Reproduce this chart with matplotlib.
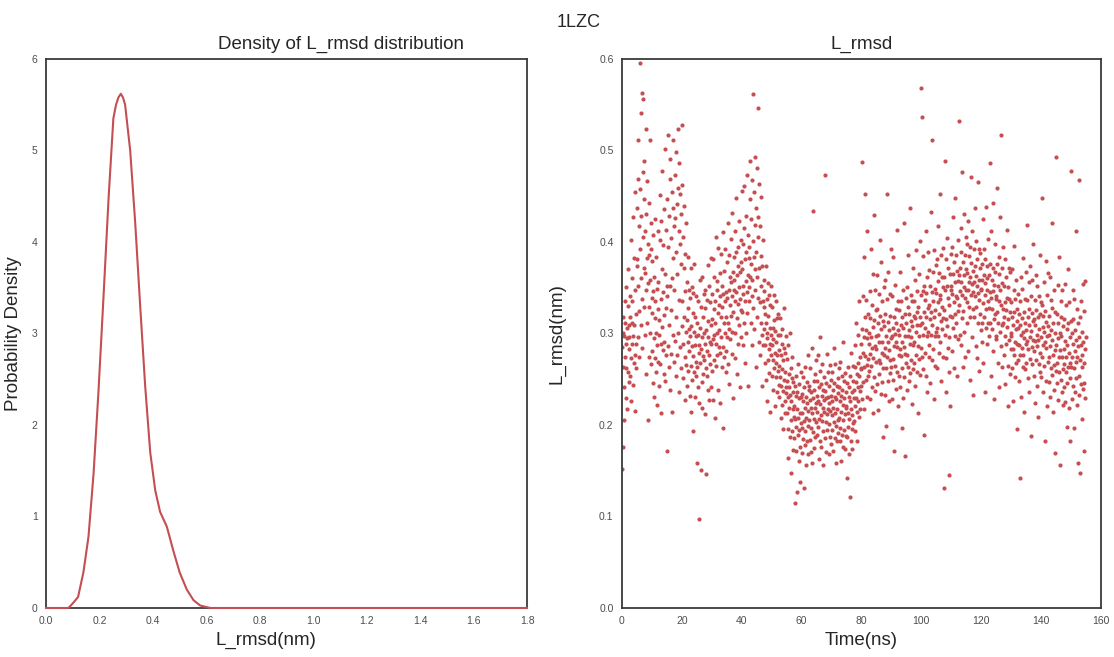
import matplotlib.pyplot as plt
import numpy as np

plt.rcParams["font.family"] = ["Liberation Sans", "DejaVu Sans"]

red = "#C44E52"
text_col = "#262626"
tick_col = "#4d4d4d"
spine_col = "#3a3a3a"

# ligand RMSD density (KDE of L_rmsd)
kde_x = [0.0, 0.05, 0.084, 0.10, 0.12, 0.14, 0.159, 0.178, 0.196, 0.215,
         0.234, 0.252, 0.262, 0.271, 0.28, 0.288, 0.296, 0.315, 0.334, 0.352,
         0.371, 0.39, 0.409, 0.427, 0.452, 0.477, 0.50, 0.527, 0.552, 0.577,
         0.615, 0.70, 1.8]
kde_y = [0.0, 0.0, 0.0, 0.05, 0.12, 0.39, 0.78, 1.47, 2.35, 3.39,
         4.47, 5.35, 5.50, 5.58, 5.62, 5.58, 5.50, 5.00, 4.20, 3.32,
         2.43, 1.70, 1.28, 1.05, 0.89, 0.62, 0.39, 0.20, 0.085, 0.027,
         0.0, 0.0, 0.0]

# L_rmsd per frame, in 1e-3 nm, one frame every 0.1 ns
dt_ns = 0.1
l_rmsd_x1000 = [
    152, 285, 301, 176, 263, 318, 241, 297, 205, 336, 274, 312, 229, 289, 351, 262, 306, 218, 295, 330, 258, 371, 283, 247, 309,
    296, 341, 254, 318, 402, 273, 226, 335, 289, 361, 312, 244, 427, 297, 268, 383, 309, 215, 347, 276, 455, 321, 288, 262, 374,
    381, 437, 296, 512, 352, 469, 274, 418, 325, 596, 392, 458, 309, 541, 361, 428, 563, 338, 284, 476, 405, 556, 329, 447, 372,
    489, 366, 412, 298, 524, 347, 256, 431, 382, 312, 467, 205, 355, 398, 274, 443, 329, 386, 512, 301, 358, 421, 267, 392, 339,
    322, 281, 379, 246, 346, 408, 295, 231, 362, 317, 273, 425, 336, 258, 301, 384, 222, 349, 287, 412, 269, 327, 356, 298, 243,
    315, 402, 267, 451, 338, 289, 423, 213, 371, 307, 478, 282, 345, 397, 256, 320, 436, 291, 365, 502, 248, 328, 413, 276, 352,
    172, 341, 447, 286, 395, 517, 263, 428, 309, 469, 352, 238, 491, 326, 404, 278, 455, 361, 214, 437, 298, 382, 512, 269, 418,
    347, 473, 292, 426, 254, 389, 498, 318, 441, 277, 365, 459, 301, 523, 236, 412, 337, 486, 285, 398, 452, 262, 376, 431, 308,
    528, 336, 462, 289, 405, 251, 372, 318, 439, 274, 346, 227, 387, 302, 266, 421, 315, 243, 356, 291, 328, 384, 259, 305, 347,
    281, 232, 339, 297, 264, 372, 214, 308, 286, 351, 249, 322, 275, 193, 344, 302, 258, 376, 287, 231, 318, 269, 341, 297, 254,
    312, 263, 158, 298, 241, 336, 279, 97, 287, 224, 358, 268, 306, 151, 283, 329, 247, 296, 362, 219, 275, 318, 256, 301, 343,
    271, 328, 289, 212, 347, 262, 304, 146, 281, 337, 253, 296, 375, 238, 314, 276, 352, 227, 291, 334, 267, 309, 242, 383, 288,
    316, 259, 343, 294, 381, 227, 327, 298, 362, 271, 336, 208, 312, 289, 405, 264, 348, 301, 276, 357, 238, 322, 393, 285, 331,
    304, 366, 279, 341, 224, 318, 387, 296, 352, 263, 329, 411, 285, 343, 197, 312, 368, 274, 336, 301, 392, 258, 345, 318, 281,
    339, 296, 378, 312, 421, 267, 348, 305, 386, 245, 331, 362, 294, 403, 319, 356, 278, 341, 432, 302, 367, 229, 323, 384, 347,
    358, 301, 412, 336, 273, 389, 345, 448, 317, 364, 256, 332, 395, 374, 288, 351, 423, 309, 367, 241, 338, 402, 326, 378, 296,
    371, 324, 456, 343, 287, 398, 352, 415, 312, 461, 336, 381, 268, 357, 428, 301, 389, 345, 473, 322, 364, 243, 408, 351, 383,
    394, 336, 447, 362, 488, 312, 376, 425, 287, 359, 468, 341, 401, 562, 328, 384, 455, 305, 371, 419, 348, 493, 263, 389, 437,
    362, 481, 318, 427, 546, 339, 405, 291, 463, 372, 334, 418, 276, 385, 311, 449, 352, 298, 374, 243, 336, 402, 287, 329, 358,
    305, 346, 268, 321, 287, 374, 249, 312, 295, 338, 226, 301, 355, 271, 319, 283, 342, 257, 306, 331, 214, 289, 352, 276, 298,
    287, 253, 329, 271, 306, 238, 294, 342, 262, 315, 279, 221, 303, 268, 336, 252, 291, 317, 236, 276, 321, 259, 298, 244, 282,
    264, 231, 298, 252, 317, 208, 276, 243, 289, 222, 261, 305, 237, 271, 196, 284, 249, 328, 226, 258, 213, 279, 242, 297, 235,
    248, 213, 272, 196, 231, 287, 164, 242, 219, 256, 187, 233, 301, 205, 262, 148, 226, 251, 193, 274, 218, 236, 173, 247, 209,
    221, 186, 243, 115, 207, 232, 172, 254, 198, 218, 127, 236, 189, 267, 208, 161, 229, 194, 245, 176, 213, 138, 231, 202, 258,
    197, 234, 169, 213, 252, 185, 226, 131, 204, 241, 178, 219, 263, 193, 231, 156, 208, 247, 182, 224, 199, 276, 168, 215, 238,
    206, 243, 184, 227, 262, 171, 219, 236, 197, 284, 213, 158, 229, 434, 192, 248, 207, 175, 238, 219, 256, 187, 224, 203, 271,
    232, 189, 248, 214, 276, 198, 226, 163, 241, 207, 259, 182, 223, 296, 211, 245, 176, 232, 204, 267, 219, 193, 238, 156, 227,
    214, 252, 186, 237, 473, 203, 229, 171, 246, 212, 278, 194, 231, 218, 258, 168, 224, 201, 243, 187, 266, 215, 232, 179, 249,
    226, 194, 258, 211, 238, 172, 219, 284, 203, 246, 186, 231, 213, 267, 159, 228, 199, 243, 217, 182, 251, 206, 235, 191, 262,
    208, 241, 183, 226, 269, 197, 232, 161, 214, 253, 189, 238, 206, 291, 176, 222, 248, 195, 229, 212, 174, 257, 219, 236, 188,
    221, 187, 246, 142, 213, 263, 198, 231, 168, 242, 207, 121, 226, 254, 183, 218, 279, 196, 236, 174, 211, 248, 202, 265, 229,
    238, 204, 263, 221, 287, 193, 247, 229, 312, 214, 256, 182, 241, 268, 226, 298, 209, 253, 336, 237, 274, 218, 261, 243, 289,
    262, 305, 228, 487, 279, 341, 247, 296, 263, 384, 218, 318, 275, 452, 249, 304, 337, 266, 231, 295, 412, 272, 321, 254, 288,
    301, 259, 346, 278, 228, 317, 392, 265, 296, 241, 331, 284, 365, 213, 307, 273, 429, 252, 315, 286, 348, 237, 297, 326, 269,
    283, 327, 245, 364, 298, 216, 312, 271, 343, 256, 291, 402, 268, 319, 234, 305, 378, 279, 247, 336, 291, 187, 314, 262, 351,
    276, 308, 233, 359, 284, 321, 199, 297, 262, 338, 452, 274, 313, 248, 291, 367, 226, 304, 282, 343, 257, 319, 271, 392, 295,
    263, 297, 341, 228, 306, 272, 384, 249, 318, 286, 172, 299, 353, 265, 327, 239, 291, 312, 413, 258, 285, 336, 221, 304, 276,
    298, 254, 326, 283, 367, 241, 309, 275, 335, 197, 291, 318, 262, 348, 229, 306, 285, 421, 252, 321, 278, 166, 297, 339, 268,
    312, 276, 351, 238, 297, 329, 263, 386, 304, 248, 321, 289, 437, 257, 314, 342, 271, 296, 223, 335, 308, 261, 372, 287, 319,
    291, 336, 268, 317, 243, 358, 302, 276, 391, 324, 258, 309, 346, 286, 213, 329, 297, 365, 272, 318, 255, 401, 309, 284, 342,
    568, 537, 312, 274, 346, 298, 385, 261, 323, 352, 189, 306, 337, 279, 412, 318, 254, 344, 297, 362, 236, 328, 389, 302, 274,
    331, 287, 369, 316, 246, 352, 298, 433, 324, 271, 345, 512, 309, 367, 283, 336, 228, 318, 391, 297, 349, 264, 326, 375, 302,
    344, 306, 381, 262, 334, 418, 297, 357, 321, 279, 366, 338, 453, 291, 342, 314, 386, 248, 329, 362, 305, 393, 274, 351, 317,
    326, 131, 362, 489, 298, 347, 273, 381, 316, 236, 352, 308, 404, 284, 339, 372, 258, 145, 331, 296, 365, 319, 221, 348, 387,
    352, 318, 394, 281, 343, 427, 306, 365, 334, 262, 378, 321, 356, 448, 297, 341, 386, 312, 253, 368, 339, 402, 294, 357, 325,
    364, 331, 532, 298, 372, 346, 415, 287, 356, 389, 317, 476, 342, 263, 378, 325, 364, 431, 302, 351, 386, 274, 339, 405, 348,
    371, 334, 398, 312, 366, 281, 347, 423, 329, 385, 356, 249, 362, 394, 318, 471, 342, 377, 296, 354, 412, 327, 368, 233, 345,
    356, 392, 318, 374, 437, 341, 286, 363, 329, 401, 352, 273, 381, 344, 466, 311, 358, 392, 337, 259, 372, 321, 388, 349, 304,
    347, 312, 376, 291, 358, 425, 333, 268, 364, 318, 392, 342, 236, 355, 381, 306, 438, 327, 361, 289, 347, 374, 312, 403, 336,
    328, 364, 297, 345, 486, 312, 376, 254, 339, 412, 305, 358, 327, 443, 281, 346, 372, 316, 228, 353, 398, 321, 367, 294, 338,
    341, 297, 376, 323, 459, 268, 352, 312, 384, 336, 241, 365, 302, 427, 348, 517, 286, 331, 372, 309, 355, 263, 394, 327, 312,
    318, 352, 276, 334, 297, 381, 245, 326, 362, 288, 413, 307, 339, 264, 351, 221, 316, 372, 293, 338, 256, 324, 367, 301, 283,
    297, 334, 262, 318, 371, 283, 226, 309, 347, 276, 324, 396, 291, 252, 338, 305, 268, 359, 314, 196, 327, 288, 343, 271, 306,
    287, 321, 248, 309, 142, 336, 276, 362, 298, 231, 317, 284, 349, 263, 302, 383, 277, 324, 214, 295, 338, 261, 312, 367, 289,
    304, 268, 337, 292, 419, 251, 318, 283, 356, 309, 236, 327, 296, 374, 272, 341, 303, 188, 322, 285, 359, 267, 314, 398, 293,
    281, 316, 254, 337, 292, 224, 309, 364, 271, 326, 298, 243, 352, 286, 318, 209, 293, 341, 267, 305, 386, 258, 321, 279, 334,
    296, 252, 331, 274, 448, 307, 236, 319, 287, 356, 265, 302, 183, 325, 291, 379, 248, 313, 284, 342, 221, 297, 366, 269, 308,
    274, 319, 247, 298, 362, 231, 286, 337, 262, 304, 421, 255, 293, 328, 214, 276, 312, 266, 347, 238, 301, 282, 169, 324, 259,
    493, 287, 246, 321, 268, 353, 295, 227, 312, 274, 384, 258, 301, 156, 282, 336, 249, 297, 318, 236, 274, 347, 261, 308, 222,
    283, 242, 316, 267, 354, 225, 292, 258, 331, 274, 198, 305, 246, 287, 371, 263, 312, 219, 279, 334, 251, 296, 268, 182, 314,
    478, 263, 228, 301, 274, 347, 243, 289, 316, 197, 262, 338, 281, 236, 304, 269, 412, 251, 293, 222, 327, 274, 158, 286, 312,
    254, 296, 233, 468, 271, 318, 148, 287, 245, 336, 263, 207, 302, 276, 354, 239, 291, 172, 268, 325, 246, 283, 357, 229, 296,
]

l_rmsd = np.array(l_rmsd_x1000) / 1000.0
time_ns = np.arange(len(l_rmsd)) * dt_ns

fig = plt.figure(figsize=(11.14, 6.57), dpi=100)
ax1 = fig.add_axes([0.0413, 0.0746, 0.4318, 0.8356])
ax2 = fig.add_axes([0.5583, 0.0746, 0.4300, 0.8356])

fig.text(0.519, 0.966, "1LZC", ha="center", va="center", fontsize=13, color=text_col)

# left: density
ax1.plot(kde_x, kde_y, color=red, lw=1.5, zorder=3, clip_on=False)
ax1.set_xlim(0, 1.8)
ax1.set_ylim(0, 6)
ax1.set_xticks(np.arange(0, 1.81, 0.2))
ax1.set_title("Density of L_rmsd distribution", fontsize=13.5, color=text_col, x=0.613, pad=7)
ax1.set_xlabel("L_rmsd(nm)", fontsize=13.5, color=text_col, x=0.457)
ax1.set_ylabel("Probability Density", fontsize=13.5, color=text_col)
ax1.yaxis.set_label_coords(-0.05, 0.5)

# right: time series
ax2.scatter(time_ns, l_rmsd, s=9, color=red, linewidths=0)
ax2.set_xlim(0, 160)
ax2.set_ylim(0, 0.6)
ax2.set_xticks(np.arange(0, 161, 20))
ax2.set_yticks(np.arange(0, 0.61, 0.1))
ax2.set_title("L_rmsd", fontsize=13.5, color=text_col, pad=7)
ax2.set_xlabel("Time(ns)", fontsize=13.5, color=text_col)
ax2.set_ylabel("L_rmsd(nm)", fontsize=13.5, color=text_col)
ax2.yaxis.set_label_coords(-0.117, 0.5)

for ax in (ax1, ax2):
    for sp in ax.spines.values():
        sp.set_color(spine_col)
        sp.set_linewidth(1.3)
    ax.tick_params(length=0, labelsize=7.5, labelcolor=tick_col, pad=6)

fig.savefig("out.png", dpi=100)
